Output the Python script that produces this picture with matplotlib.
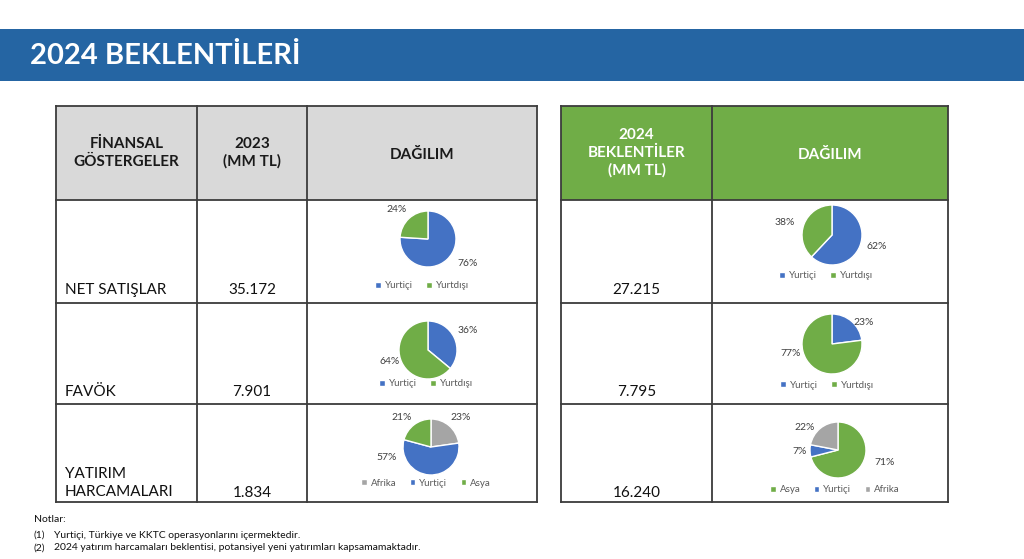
import matplotlib.pyplot as plt
from matplotlib.patches import Rectangle

plt.rcParams['font.family'] = ['Lato', 'DejaVu Sans']

# ── data ────────────────────────────────────────────────────────────────────
indicators = ["NET SATIŞLAR", "FAVÖK", "YATIRIM\nHARCAMALARI"]
values_2023 = ["35.172", "7.901", "1.834"]
values_2024 = ["27.215", "7.795", "16.240"]

net_2023_labels, net_2023_shares = ["Yurtiçi", "Yurtdışı"], [76, 24]
favok_2023_labels, favok_2023_shares = ["Yurtiçi", "Yurtdışı"], [36, 64]
capex_2023_labels, capex_2023_shares = ["Afrika", "Yurtiçi", "Asya"], [23, 57, 21]

net_2024_labels, net_2024_shares = ["Yurtiçi", "Yurtdışı"], [62, 38]
favok_2024_labels, favok_2024_shares = ["Yurtiçi", "Yurtdışı"], [23, 77]
capex_2024_labels, capex_2024_shares = ["Asya", "Yurtiçi", "Afrika"], [71, 7, 22]

notes = ["Yurtiçi, Türkiye ve KKTC operasyonlarını içermektedir.",
         "2024 yatırım harcamaları beklentisi, potansiyel yeni yatırımları kapsamamaktadır."]

COLORS = {"Yurtiçi": "#4472C4", "Yurtdışı": "#70AD47",
          "Asya": "#70AD47", "Afrika": "#A5A5A5"}

# ── layout (pixels) ─────────────────────────────────────────────────────────
W, H = 1024, 559
fig = plt.figure(figsize=(W / 100, H / 100), dpi=100)
ax = fig.add_axes([0, 0, 1, 1])
ax.set_xlim(0, W); ax.set_ylim(H, 0); ax.axis("off")

# title band
ax.add_patch(Rectangle((0, 29), W, 52, color="#2565A3", lw=0))
ax.text(30, 56, "2024 BEKLENTİLERİ", color="white", fontsize=21,
        fontweight="bold", va="center", ha="left")

LINE = "#3c3c3c"
top, head_bot = 106, 200
row_lines = [200, 303, 404, 502]

# left table
L_cols = [56, 197, 307, 537]
ax.add_patch(Rectangle((L_cols[0], top), L_cols[-1] - L_cols[0], head_bot - top,
                       facecolor="#D9D9D9", edgecolor="none"))
# right table
R_cols = [561, 712, 948]
ax.add_patch(Rectangle((R_cols[0], top), R_cols[-1] - R_cols[0], head_bot - top,
                       facecolor="#70AD47", edgecolor="none"))

for cols in (L_cols, R_cols):
    for y in [top] + row_lines:
        ax.plot([cols[0], cols[-1]], [y, y], color=LINE, lw=1.3, solid_capstyle="projecting")
    for x in cols:
        ax.plot([x, x], [top, row_lines[-1]], color=LINE, lw=1.3, solid_capstyle="projecting")

hdr = dict(fontsize=11, fontweight="bold", ha="center", va="center", linespacing=1.3)
ax.text((L_cols[0] + L_cols[1]) / 2, 153, "FİNANSAL\nGÖSTERGELER", color="#1a1a1a", **hdr)
ax.text((L_cols[1] + L_cols[2]) / 2, 153, "2023\n(MM TL)", color="#1a1a1a", **hdr)
ax.text((L_cols[2] + L_cols[3]) / 2, 155, "DAĞILIM", color="#1a1a1a", **hdr)
ax.text((R_cols[0] + R_cols[1]) / 2, 153, "2024\nBEKLENTİLER\n(MM TL)", color="white", **hdr)
ax.text((R_cols[1] + R_cols[2]) / 2, 155, "DAĞILIM", color="white", **hdr)

label_y = [290, 392, 483]
value_y = [290, 392, 493]
for name, v23, v24, ly, vy in zip(indicators, values_2023, values_2024, label_y, value_y):
    ax.text(65, ly, name, fontsize=11, ha="left", va="center", linespacing=1.3, color="#111111")
    ax.text((L_cols[1] + L_cols[2]) / 2, vy, v23, fontsize=11, ha="center", va="center", color="#111111")
    ax.text((R_cols[0] + R_cols[1]) / 2, vy, v24, fontsize=11, ha="center", va="center", color="#111111")

# ── pies ────────────────────────────────────────────────────────────────────
# (labels, shares, centre x, centre y, radius, legend centre x, legend y, label offsets in radii)
pies = [
    (net_2023_labels, net_2023_shares, 428, 239, 28, 422, 286,
     [(1.43, -0.86), (-1.11, 1.04)]),
    (favok_2023_labels, favok_2023_shares, 428, 350, 29, 426, 384,
     [(1.38, 0.66), (-1.34, -0.41)]),
    (capex_2023_labels, capex_2023_shares, 431, 447, 28, 426, 483,
     [(1.07, 1.07), (-1.57, -0.36), (-1.04, 1.07)]),
    (net_2024_labels, net_2024_shares, 832, 235, 30, 826, 276,
     [(1.5, -0.37), (-1.57, 0.43)]),
    (favok_2024_labels, favok_2024_shares, 832, 344, 30, 827, 385,
     [(1.07, 0.73), (-1.37, -0.3)]),
    (capex_2024_labels, capex_2024_shares, 838, 450, 28, 835, 490,
     [(1.68, -0.43), (-1.36, -0.07), (-1.18, 0.82)]),
]

for labels, shares, cx, cy, r, lx, ly, offs in pies:
    pax = fig.add_axes([(cx - r) / W, 1 - (cy + r) / H, 2 * r / W, 2 * r / H])
    wedges, _ = pax.pie(shares, colors=[COLORS[l] for l in labels], startangle=90,
                        counterclock=False, radius=1,
                        wedgeprops=dict(edgecolor="white", linewidth=1.0))
    pax.set_xlim(-1, 1); pax.set_ylim(-1, 1); pax.axis("off")
    for val, (dx, dy) in zip(shares, offs):
        pax.text(dx, dy, f"{val}%", fontsize=7.5, color="#404040", ha="center", va="center")
    fig.legend(wedges, labels, loc="center", bbox_to_anchor=(lx / W, 1 - ly / H),
               ncol=len(labels), frameon=False, fontsize=7, labelcolor="#595959",
               handlelength=0.55, handleheight=0.55, handletextpad=0.4,
               columnspacing=1.4, borderpad=0)

# ── notes ───────────────────────────────────────────────────────────────────
ax.text(34, 520, "Notlar:", fontsize=7.5, ha="left", va="center", color="#111111")
for i, note in enumerate(notes):
    y = 535 + i * 13
    ax.text(34, y, f"({i + 1})", fontsize=7.5, ha="left", va="center", color="#111111")
    ax.text(54, y, note, fontsize=7.5, ha="left", va="center", color="#111111")

fig.savefig("out.png", dpi=100)
